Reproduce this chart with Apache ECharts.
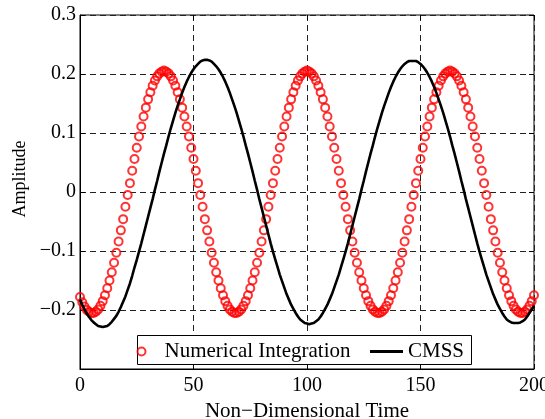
<!DOCTYPE html>
<html>
<head>
<meta charset="utf-8">
<script src="https://cdn.jsdelivr.net/npm/echarts@6/dist/echarts.min.js"></script>
<style>
  html, body { margin: 0; padding: 0; background: #fff; }
  #chart { width: 545px; height: 419px; }
</style>
</head>
<body>
<div id="chart"></div>
<script>
// time axis: one sample per unit of non-dimensional time, starting at 0
const timeStep = 1

// Numerical Integration (red circles), t = 0 .. 200
const numInt = [
  // t = 0 .. 36
  -0.178, -0.187, -0.194, -0.200, -0.203, -0.205, -0.205, -0.203, -0.199, -0.193,
  -0.185, -0.175, -0.163, -0.150, -0.136, -0.120, -0.103, -0.084, -0.065, -0.046,
  -0.025, -0.005, 0.015, 0.036, 0.056, 0.075, 0.094, 0.111, 0.128, 0.143,
  0.157, 0.169, 0.180, 0.189, 0.196, 0.201, 0.204,
  // t = 37 .. 99
  0.206, 0.204, 0.201, 0.196, 0.189, 0.180, 0.169, 0.157, 0.143, 0.128,
  0.111, 0.094, 0.075, 0.056, 0.036, 0.015, -0.005, -0.025, -0.046, -0.065,
  -0.084, -0.103, -0.120, -0.136, -0.150, -0.163, -0.175, -0.185, -0.193, -0.199,
  -0.203, -0.205, -0.205, -0.203, -0.199, -0.193, -0.185, -0.175, -0.163, -0.150,
  -0.136, -0.120, -0.103, -0.084, -0.065, -0.046, -0.025, -0.005, 0.015, 0.036,
  0.056, 0.075, 0.094, 0.111, 0.128, 0.143, 0.157, 0.169, 0.180, 0.189,
  0.196, 0.201, 0.204,
  // t = 100 .. 162
  0.206, 0.204, 0.201, 0.196, 0.189, 0.180, 0.169, 0.157, 0.143, 0.128,
  0.111, 0.094, 0.075, 0.056, 0.036, 0.015, -0.005, -0.025, -0.046, -0.065,
  -0.084, -0.103, -0.120, -0.136, -0.150, -0.163, -0.175, -0.185, -0.193, -0.199,
  -0.203, -0.205, -0.205, -0.203, -0.199, -0.193, -0.185, -0.175, -0.163, -0.150,
  -0.136, -0.120, -0.103, -0.084, -0.065, -0.046, -0.025, -0.005, 0.015, 0.036,
  0.056, 0.075, 0.094, 0.111, 0.128, 0.143, 0.157, 0.169, 0.180, 0.189,
  0.196, 0.201, 0.204,
  // t = 163 .. 200
  0.206, 0.204, 0.201, 0.196, 0.189, 0.180, 0.169, 0.157, 0.143, 0.128,
  0.111, 0.094, 0.075, 0.056, 0.036, 0.015, -0.005, -0.025, -0.046, -0.065,
  -0.084, -0.103, -0.120, -0.136, -0.150, -0.163, -0.175, -0.185, -0.193, -0.199,
  -0.203, -0.205, -0.205, -0.203, -0.199, -0.193, -0.185, -0.175
]

// CMSS (black line), t = 0 .. 200
const cmss = [
  // t = 0 .. 9
  -0.182, -0.191, -0.199, -0.206, -0.212, -0.217, -0.221, -0.224, -0.227, -0.228,
  // t = 10 .. 100
  -0.229, -0.228, -0.227, -0.224, -0.220, -0.215, -0.210, -0.203, -0.195, -0.186,
  -0.177, -0.166, -0.155, -0.142, -0.128, -0.115, -0.101, -0.087, -0.072, -0.057,
  -0.042, -0.027, -0.012, 0.004, 0.019, 0.035, 0.050, 0.065, 0.079, 0.094,
  0.108, 0.121, 0.134, 0.146, 0.157, 0.168, 0.178, 0.187, 0.195, 0.202,
  0.208, 0.213, 0.217, 0.221, 0.223, 0.224, 0.224, 0.223, 0.221, 0.217,
  0.213, 0.208, 0.202, 0.195, 0.187, 0.178, 0.168, 0.157, 0.146, 0.134,
  0.121, 0.108, 0.094, 0.079, 0.065, 0.050, 0.035, 0.019, 0.004, -0.012,
  -0.027, -0.042, -0.057, -0.072, -0.087, -0.101, -0.114, -0.127, -0.140, -0.151,
  -0.162, -0.173, -0.182, -0.191, -0.198, -0.205, -0.211, -0.216, -0.219, -0.222,
  -0.223,
  // t = 101 .. 191
  -0.224, -0.223, -0.222, -0.219, -0.216, -0.211, -0.205, -0.198, -0.191, -0.182,
  -0.173, -0.162, -0.151, -0.140, -0.127, -0.114, -0.101, -0.087, -0.072, -0.057,
  -0.042, -0.027, -0.012, 0.004, 0.019, 0.035, 0.050, 0.065, 0.079, 0.094,
  0.108, 0.121, 0.134, 0.146, 0.157, 0.168, 0.178, 0.187, 0.195, 0.202,
  0.208, 0.213, 0.217, 0.220, 0.222, 0.222, 0.222, 0.222, 0.220, 0.217,
  0.213, 0.208, 0.202, 0.195, 0.187, 0.178, 0.168, 0.157, 0.146, 0.134,
  0.121, 0.108, 0.094, 0.079, 0.065, 0.050, 0.035, 0.019, 0.004, -0.012,
  -0.027, -0.042, -0.057, -0.072, -0.087, -0.101, -0.114, -0.127, -0.140, -0.151,
  -0.162, -0.173, -0.182, -0.191, -0.198, -0.205, -0.211, -0.216, -0.219, -0.221,
  -0.222,
  // t = 192 .. 200
  -0.222, -0.222, -0.221, -0.219, -0.216, -0.211, -0.205, -0.199, -0.193
]

const xTicks = [0, 50, 100, 150, 200]
const yTicks = [-0.3, -0.2, -0.1, 0, 0.1, 0.2, 0.3]
const yTickLabels = ['', '\u22120.2', '\u22120.1', '0', '0.1', '0.2', '0.3']

const font = '"Liberation Serif", "Times New Roman", serif'

function yLabel(v) {
  // pick the label of the nearest tick value
  let best = 0
  for (let i = 0; i < yTicks.length; i++) {
    if (Math.abs(yTicks[i] - v) < Math.abs(yTicks[best] - v)) best = i
  }
  return yTickLabels[best]
}

const chart = echarts.init(document.getElementById('chart'), null, { renderer: 'canvas' })

const tickStyle = { show: true, inside: true, length: 5, lineStyle: { color: '#000', width: 1 } }
const gridLine = { show: true, lineStyle: { color: '#222', width: 1, type: [6, 4] } }

chart.setOption({
  animation: false,
  backgroundColor: '#fff',
  grid: {
    left: 80, right: 11, top: 15, bottom: 50,
    outerBoundsMode: 'none',
    show: true, borderColor: '#000', borderWidth: 1, backgroundColor: 'transparent'
  },
  xAxis: [{
    type: 'value',
    min: xTicks[0], max: xTicks[xTicks.length - 1], interval: 50,
    name: 'Non\u2212Dimensional Time',
    nameLocation: 'middle', nameGap: 21,
    nameTextStyle: { fontFamily: font, fontSize: 21, color: '#000' },
    axisLine: { show: true, onZero: false, lineStyle: { color: '#000', width: 1 } },
    axisTick: tickStyle,
    axisLabel: { fontFamily: font, fontSize: 20, color: '#000', margin: 7 },
    splitLine: gridLine
  }, {
    type: 'value', position: 'top',
    min: xTicks[0], max: xTicks[xTicks.length - 1], interval: 50,
    axisLine: { show: false, onZero: false }, axisTick: tickStyle,
    axisLabel: { show: false }, splitLine: { show: false }
  }],
  yAxis: [{
    type: 'value',
    min: -0.3, max: 0.3, interval: 0.1,
    name: 'Amplitude',
    nameLocation: 'middle', nameGap: 50,
    nameTextStyle: { fontFamily: font, fontSize: 18, color: '#000', padding: [0, 0, 0, 26] },
    axisLine: { show: true, onZero: false, lineStyle: { color: '#000', width: 1 } },
    axisTick: tickStyle,
    axisLabel: { fontFamily: font, fontSize: 20, color: '#000', margin: 4, formatter: yLabel },
    splitLine: gridLine
  }, {
    type: 'value', position: 'right',
    min: -0.3, max: 0.3, interval: 0.1,
    axisLine: { show: false, onZero: false }, axisTick: tickStyle,
    axisLabel: { show: false }, splitLine: { show: false }
  }],
  legend: [{
    data: [{ name: 'Numerical Integration', icon: 'circle' }],
    left: 135, top: 341, padding: 0,
    itemWidth: 36, itemHeight: 8,
    textStyle: { fontFamily: font, fontSize: 21, color: '#000' }
  }, {
    data: [{ name: 'CMSS', icon: 'rect' }],
    left: 370, top: 341, padding: 0,
    itemWidth: 33, itemHeight: 3,
    itemStyle: { color: '#000', borderWidth: 0 },
    textStyle: { fontFamily: font, fontSize: 21, color: '#000' }
  }],
  // white legend box
  graphic: [{
    type: 'rect', z: 3,
    shape: { x: 137.5, y: 335.5, width: 334, height: 29 },
    style: { fill: '#fff', stroke: '#000', lineWidth: 1 }
  }],
  series: [{
    name: 'Numerical Integration',
    type: 'scatter',
    symbol: 'circle',
    symbolSize: 8,
    itemStyle: { color: 'none', borderColor: '#ff0000', borderWidth: 2 },
    data: numInt.map((v, i) => [i * timeStep, v])
  }, {
    name: 'CMSS',
    type: 'line',
    symbol: 'none',
    lineStyle: { color: '#000', width: 2.6 },
    itemStyle: { color: '#000' },
    data: cmss.map((v, i) => [i * timeStep, v])
  }]
})
</script>
</body>
</html>
